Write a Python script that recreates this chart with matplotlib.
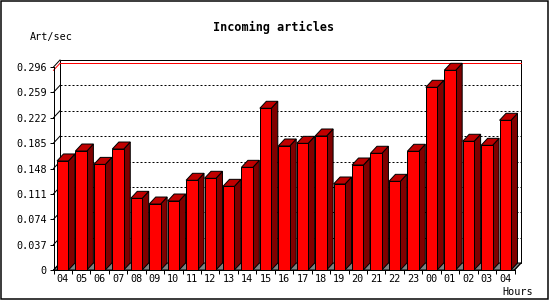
import matplotlib
matplotlib.use("Agg")
import matplotlib.pyplot as plt
import matplotlib.patches as mpatches
import matplotlib.transforms as mtransforms
import numpy as np

# ---- data ----
hours = ['04', '05', '06', '07', '08', '09', '10', '11', '12', '13', '14', '15',
         '16', '17', '18', '19', '20', '21', '22', '23', '00', '01', '02', '03', '04']
values = [0.159, 0.1735, 0.154, 0.1764, 0.1045, 0.0962, 0.1006, 0.1308, 0.1337,
          0.122, 0.1497, 0.2358, 0.1808, 0.1847, 0.1954, 0.1254, 0.1531, 0.1702,
          0.1293, 0.1731, 0.2664, 0.2912, 0.1877, 0.1818, 0.2183]
yticks = [0, 0.037, 0.074, 0.111, 0.148, 0.185, 0.222, 0.259, 0.296]
ytick_labels = ['0', '0.037', '0.074', '0.111', '0.148', '0.185', '0.222', '0.259', '0.296']
title = "Incoming articles"
ylabel = "Art/sec"
xlabel = "Hours"

# ---- styling ----
W, H = 550, 300
DPI = 100
FRONT = '#ff0000'
TOP = '#c00000'
SIDE = '#800000'
FLOOR = '#808080'
PX = 72.0 / DPI  # one pixel in points
DEPTH_X, DEPTH_Y = 6.5, 7.0  # 3D depth in pixels
BAR_W = 0.62
MONO = 'DejaVu Sans Mono'

fig = plt.figure(figsize=(W / DPI, H / DPI), dpi=DPI)
fig.patch.set_facecolor('white')

left_px, right_px, bottom_px, top_px = 53.5, 514.5, 270, 67
ax = fig.add_axes([left_px / W, 1 - bottom_px / H,
                   (right_px - left_px) / W, (bottom_px - top_px) / H])
n = len(values)
ax.set_xlim(-0.5, n - 0.5)
ax.set_ylim(0, yticks[-1])
ax.set_facecolor('none')
ax.patch.set_visible(False)

for s in ['top', 'right']:
    ax.spines[s].set_visible(False)
for s in ['left', 'bottom']:
    ax.spines[s].set_linewidth(PX)
    ax.spines[s].set_zorder(10)

# offsets in data units
p0 = ax.transData.transform((0, 0))
q = ax.transData.inverted().transform(p0 + np.array([DEPTH_X, DEPTH_Y]))
ddx, ddy = q[0], q[1]
off = ax.transData + mtransforms.ScaledTranslation(DEPTH_X / DPI, DEPTH_Y / DPI,
                                                    fig.dpi_scale_trans)
x0, x1 = -0.5, n - 0.5
ymax = yticks[-1]

# back plane
ax.add_patch(mpatches.Rectangle((x0, 0), x1 - x0, ymax, transform=off,
                                facecolor='white', edgecolor='black',
                                lw=PX, zorder=1, clip_on=False))
# floor
ax.add_patch(mpatches.Polygon([(x0, 0), (x1, 0), (x1 + ddx, ddy), (x0 + ddx, ddy)],
                              closed=True, facecolor=FLOOR, edgecolor='black',
                              lw=PX, zorder=1.5, clip_on=False))
# corner connectors
for (cx, cy) in [(x0, ymax), (x0, 0), (x1, 0)]:
    ax.plot([cx, cx + ddx], [cy, cy + ddy], color='black', lw=PX,
            zorder=2, clip_on=False)

# grid lines
for v in yticks[1:-1]:
    ax.plot([x0, x1], [v, v], transform=off, color='black', lw=PX,
            linestyle=(0, (2, 2)), zorder=2, clip_on=False)
    ax.plot([x0, x0 + ddx], [v, v + ddy], color='black', lw=PX,
            zorder=2, clip_on=False)

# max line (red)
vmax = max(values)
ax.plot([x0, x1], [vmax, vmax], transform=off, color=FRONT, lw=PX,
        zorder=2.5, clip_on=False)
ax.plot([x0, x0 + ddx], [vmax, vmax + ddy], color=FRONT, lw=PX,
        zorder=2.5, clip_on=False)

# bars
for i, v in enumerate(values):
    l, r = i - BAR_W / 2, i + BAR_W / 2
    z = 3 + i * 0.01
    ax.add_patch(mpatches.Polygon([(r, 0), (r + ddx, ddy), (r + ddx, v + ddy), (r, v)],
                                  closed=True, facecolor=SIDE, edgecolor='black',
                                  lw=PX, zorder=z, clip_on=False))
    ax.add_patch(mpatches.Polygon([(l, v), (r, v), (r + ddx, v + ddy), (l + ddx, v + ddy)],
                                  closed=True, facecolor=TOP, edgecolor='black',
                                  lw=PX, zorder=z, clip_on=False))
    ax.add_patch(mpatches.Rectangle((l, 0), BAR_W, v, facecolor=FRONT,
                                    edgecolor='black', lw=PX, zorder=z + 0.005,
                                    clip_on=False))

# ticks
ax.set_yticks(yticks)
ax.set_yticklabels(ytick_labels, fontfamily=MONO, fontsize=7.3)
ax.tick_params(axis='y', length=4 * PX, width=PX, pad=2, direction='out')

ax.set_xticks(np.arange(-0.5, n, 1.0))
ax.set_xticklabels([])
ax.set_xticks(np.arange(n), minor=True)
ax.set_xticklabels(hours, minor=True, fontfamily=MONO, fontsize=7.3)
ax.tick_params(axis='x', which='major', length=4 * PX, width=PX, direction='out')
ax.tick_params(axis='x', which='minor', length=0, pad=3)

# texts
fig.text(274 / W, 1 - 27 / H, title, ha='center', va='center',
         fontfamily=MONO, fontweight='bold', fontsize=8.5)
fig.text(30 / W, 1 - 37 / H, ylabel, ha='left', va='center',
         fontfamily=MONO, fontsize=7.3)
fig.text(533 / W, 1 - 292 / H, xlabel, ha='right', va='center',
         fontfamily=MONO, fontsize=7.3)

# outer frame
fig.patches.append(mpatches.Rectangle((0.75 / W, 1.5 / H), 547.5 / W, 298 / H,
                                      transform=fig.transFigure, fill=False,
                                      edgecolor='black', lw=1.5 * PX))

fig.savefig('out.png', dpi=DPI)
